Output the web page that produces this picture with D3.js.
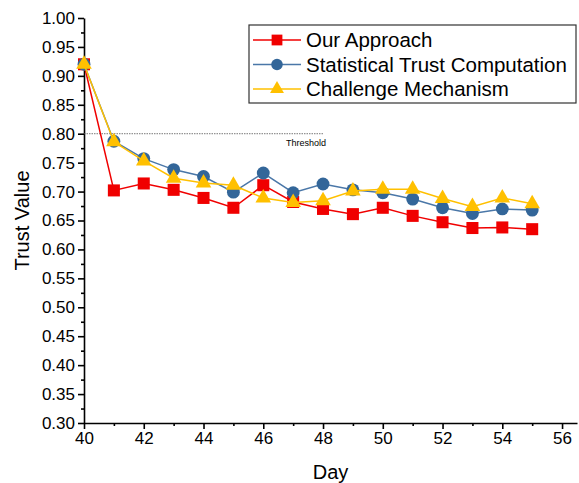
<html>
<head>
<script src="https://d3js.org/d3.v7.min.js"></script>
<style>
  body { margin: 0; background: #fff; }
  text { font-family: 'Liberation Sans', Arial, sans-serif; }
</style>
</head>
<body>
<svg width="579" height="483"></svg>
<script>
// data
var days = [40, 41, 42, 43, 44, 45, 46, 47, 48, 49, 50, 51, 52, 53, 54, 55];
var ourApproach = [0.920, 0.702, 0.714, 0.703, 0.689, 0.672, 0.711, 0.682, 0.670, 0.661, 0.672, 0.658, 0.647, 0.637, 0.638, 0.635];
var statTrust = [0.920, 0.787, 0.757, 0.738, 0.726, 0.699, 0.732, 0.698, 0.713, 0.703, 0.698, 0.687, 0.672, 0.662, 0.670, 0.668];
var challenge = [0.920, 0.786, 0.753, 0.723, 0.715, 0.711, 0.689, 0.681, 0.684, 0.701, 0.704, 0.704, 0.688, 0.674, 0.689, 0.679];
var seriesNames = ['Our Approach', 'Statistical Trust Computation', 'Challenge Mechanism'];
var thresholdValue = 0.80;
var thresholdDays = [40, 48];
var xTicks = [40, 42, 44, 46, 48, 50, 52, 54, 56];
var yTicks = [0.30, 0.35, 0.40, 0.45, 0.50, 0.55, 0.60, 0.65, 0.70, 0.75, 0.80, 0.85, 0.90, 0.95, 1.00];

var svg = d3.select('svg');
var plotLeft = 84, plotTop = 18, plotRight = 577, plotBottom = 423;

var x = d3.scaleLinear().domain([40, 56.5]).range([plotLeft, plotRight]);
var y = d3.scaleLinear().domain([0.30, 1.00]).range([plotBottom, plotTop]);

// y axis with minor ticks
var yMinor = yTicks.slice(0, -1).map(function (d) { return d + 0.025; });
svg.append('g')
  .attr('transform', 'translate(' + plotLeft + ',0)')
  .call(d3.axisLeft(y).tickValues(yMinor).tickSize(3).tickFormat(''))
  .call(function (g) { g.select('.domain').remove(); });
var yAxis = svg.append('g')
  .attr('transform', 'translate(' + plotLeft + ',0)')
  .call(d3.axisLeft(y).tickValues(yTicks).tickSize(6).tickSizeOuter(0).tickPadding(3).tickFormat(d3.format('.2f')));
yAxis.selectAll('text').style('font-size', '17px').attr('fill', '#000');

// x axis with minor ticks
var xMinor = xTicks.map(function (d) { return d + 1; });
svg.append('g')
  .attr('transform', 'translate(0,' + plotBottom + ')')
  .call(d3.axisBottom(x).tickValues(xMinor).tickSize(3).tickFormat(''))
  .call(function (g) { g.select('.domain').remove(); });
var xAxis = svg.append('g')
  .attr('transform', 'translate(0,' + plotBottom + ')')
  .call(d3.axisBottom(x).tickValues(xTicks).tickSize(6).tickSizeOuter(0).tickPadding(3));
xAxis.selectAll('text').style('font-size', '17px').attr('fill', '#000');
svg.selectAll('g line, g path.domain').attr('stroke', '#000').attr('stroke-width', 1.6);

// axis titles
svg.append('text')
  .attr('transform', 'translate(29,' + ((plotTop + plotBottom) / 2) + ')rotate(-90)')
  .attr('text-anchor', 'middle')
  .style('font-size', '20px')
  .text('Trust Value');
svg.append('text')
  .attr('x', (plotLeft + plotRight) / 2)
  .attr('y', 479)
  .attr('text-anchor', 'middle')
  .style('font-size', '20px')
  .text('Day');

// threshold
svg.append('line')
  .attr('x1', x(thresholdDays[0])).attr('x2', x(thresholdDays[1]))
  .attr('y1', y(thresholdValue)).attr('y2', y(thresholdValue))
  .attr('stroke', '#555').attr('stroke-width', 0.8)
  .attr('stroke-dasharray', '1.5,1');
svg.append('text')
  .attr('x', x(thresholdDays[1]) + 3)
  .attr('y', y(thresholdValue) + 12)
  .attr('text-anchor', 'end')
  .style('font-size', '9px')
  .text('Threshold');

// series
var colors = ['#f00000', '#336699', '#ffc000'];
var lineColors = ['#f00000', '#4a77a8', '#ffc000'];
var symbols = [d3.symbolSquare, d3.symbolCircle, d3.symbolTriangle];
var symbolSizes = [145, 130, 105];
var allSeries = [ourApproach, statTrust, challenge];

var line = d3.line()
  .x(function (d) { return x(d[0]); })
  .y(function (d) { return y(d[1]); });

allSeries.forEach(function (vals, i) {
  var pts = days.map(function (d, k) { return [d, vals[k]]; });
  svg.append('path')
    .datum(pts)
    .attr('d', line)
    .attr('fill', 'none')
    .attr('stroke', lineColors[i])
    .attr('stroke-width', 1.5);
  svg.append('g')
    .selectAll('path')
    .data(pts)
    .enter()
    .append('path')
    .attr('transform', function (d) { return 'translate(' + x(d[0]) + ',' + y(d[1]) + ')'; })
    .attr('d', d3.symbol().type(symbols[i]).size(symbolSizes[i]))
    .attr('fill', colors[i]);
});

// legend
var legend = svg.append('g').attr('transform', 'translate(249,25)');
legend.append('rect')
  .attr('width', 327).attr('height', 78)
  .attr('fill', '#fff').attr('stroke', '#333').attr('stroke-width', 1.2);
seriesNames.forEach(function (name, i) {
  var cy = 15 + i * 24.5;
  legend.append('line')
    .attr('x1', 4).attr('x2', 52).attr('y1', cy).attr('y2', cy)
    .attr('stroke', lineColors[i]).attr('stroke-width', 1.5);
  legend.append('path')
    .attr('transform', 'translate(28,' + cy + ')')
    .attr('d', d3.symbol().type(symbols[i]).size(symbolSizes[i] * 0.8))
    .attr('fill', colors[i]);
  legend.append('text')
    .attr('x', 57).attr('y', cy)
    .attr('dy', '0.35em')
    .style('font-size', '20.5px')
    .text(name);
});
</script>
</body>
</html>
